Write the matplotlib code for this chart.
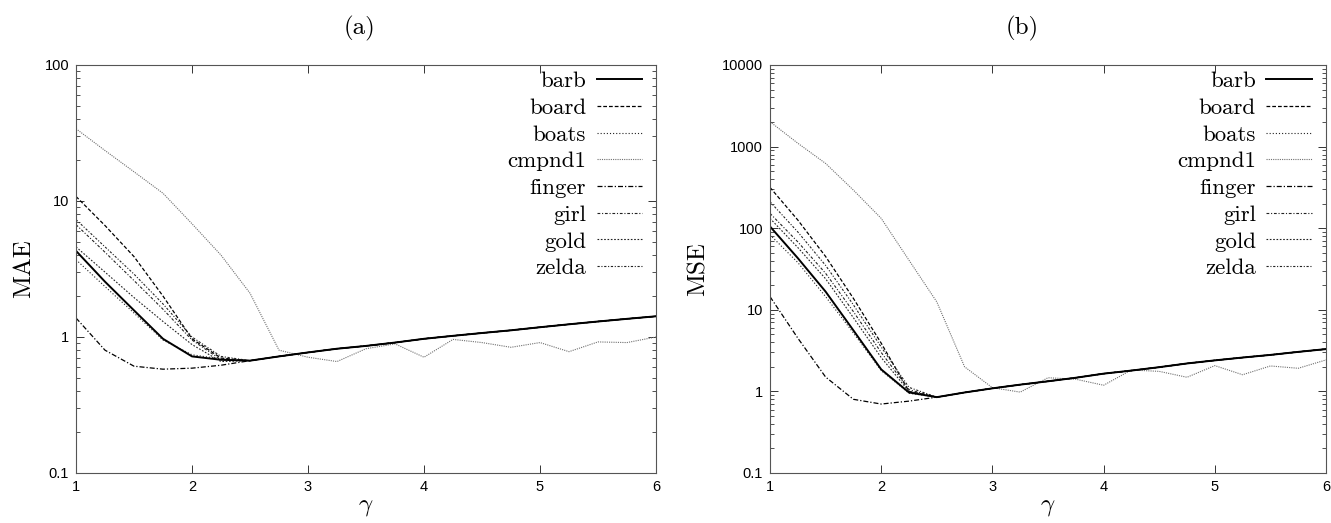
import matplotlib
matplotlib.use('Agg')
import matplotlib.pyplot as plt
from matplotlib.ticker import FixedLocator, NullFormatter, LogLocator

plt.rcParams['mathtext.fontset'] = 'cm'

gamma = [1, 1.25, 1.5, 1.75, 2, 2.25, 2.5, 2.75, 3, 3.25, 3.5, 3.75, 4,
         4.25, 4.5, 4.75, 5, 5.25, 5.5, 5.75, 6]

names = ['barb', 'board', 'boats', 'cmpnd1', 'finger', 'girl', 'gold', 'zelda']

# common tail for gamma >= 2.75 (all images but cmpnd1 coincide there)
mae_tail = [0.72, 0.77, 0.82, 0.86, 0.91, 0.97, 1.02, 1.07, 1.12, 1.18, 1.24, 1.30, 1.36, 1.42]
mse_tail = [0.97, 1.09, 1.21, 1.33, 1.47, 1.65, 1.80, 1.98, 2.20, 2.40, 2.60, 2.80, 3.05, 3.30]

# MAE, gamma = 1 .. 2.5
mae_barb = [4.3, 2.55, 1.57, 0.97, 0.72, 0.68, 0.67]
mae_board = [10.8, 6.6, 3.9, 2.0, 0.97, 0.70, 0.67]
mae_boats = [3.7, 2.35, 1.5, 0.95, 0.74, 0.69, 0.67]
mae_finger = [1.38, 0.80, 0.61, 0.58, 0.59, 0.62, 0.67]
mae_girl = [6.7, 4.2, 2.6, 1.6, 0.95, 0.68, 0.67]
mae_gold = [4.6, 3.0, 1.95, 1.3, 0.88, 0.66, 0.67]
mae_zelda = [7.3, 4.6, 2.9, 1.75, 1.0, 0.72, 0.67]
mae_cmpnd1 = [34, 23.5, 16.4, 11.4, 6.8, 4.0, 2.1, 0.80, 0.71, 0.66, 0.82, 0.89,
              0.71, 0.96, 0.91, 0.84, 0.91, 0.78, 0.92, 0.91, 1.0]

# MSE, gamma = 1 .. 2.5
mse_barb = [105, 43, 16.7, 5.6, 1.86, 0.97, 0.85]
mse_board = [316, 126, 45, 13.8, 3.9, 1.0, 0.85]
mse_boats = [83, 38, 14.5, 5.2, 1.8, 0.95, 0.85]
mse_finger = [14.5, 4.5, 1.5, 0.8, 0.7, 0.76, 0.85]
mse_girl = [152, 68, 28, 9.5, 3.0, 1.05, 0.85]
mse_gold = [132, 58, 24, 8.0, 2.6, 1.0, 0.85]
mse_zelda = [211, 90, 35, 11.5, 3.5, 1.12, 0.85]
mse_cmpnd1 = [2018, 1100, 622, 293, 132, 40.5, 12.5, 2.0, 1.11, 0.98, 1.47, 1.41,
              1.19, 1.83, 1.76, 1.49, 2.07, 1.6, 2.05, 1.92, 2.43]

mae_yticks = [0.1, 1, 10, 100]
mse_yticks = [0.1, 1, 10, 100, 1000, 10000]
xticks = [1, 2, 3, 4, 5, 6]

styles = {
    'barb': dict(color='black', lw=1.4, ls='-'),
    'board': dict(color='black', lw=0.9, ls=(0, (3, 1.6))),
    'boats': dict(color='#222222', lw=0.8, ls=(0, (1, 1.8))),
    'cmpnd1': dict(color='#707070', lw=0.8, ls=(0, (1, 1))),
    'finger': dict(color='black', lw=0.9, ls=(0, (4, 1.6, 1, 1.6))),
    'girl': dict(color='#222222', lw=0.8, ls=(0, (2.5, 1.6, 1, 1.6))),
    'gold': dict(color='#222222', lw=0.8, ls=(0, (1.5, 1.5))),
    'zelda': dict(color='#222222', lw=0.8, ls=(0, (2, 1.5, 1, 1.5))),
}

mae = {'barb': mae_barb + mae_tail, 'board': mae_board + mae_tail,
       'boats': mae_boats + mae_tail, 'cmpnd1': mae_cmpnd1,
       'finger': mae_finger + mae_tail, 'girl': mae_girl + mae_tail,
       'gold': mae_gold + mae_tail, 'zelda': mae_zelda + mae_tail}
mse = {'barb': mse_barb + mse_tail, 'board': mse_board + mse_tail,
       'boats': mse_boats + mse_tail, 'cmpnd1': mse_cmpnd1,
       'finger': mse_finger + mse_tail, 'girl': mse_girl + mse_tail,
       'gold': mse_gold + mse_tail, 'zelda': mse_zelda + mse_tail}

fig = plt.figure(figsize=(13.31, 5.23), dpi=100)
ax1 = fig.add_axes([76 / 1331, 50 / 523, 580 / 1331, 408 / 523])
ax2 = fig.add_axes([770 / 1331, 50 / 523, 556 / 1331, 408 / 523])

serif = 'cmr10'


def draw(ax, data, yticks, ylabel, title, title_x):
    # draw barb last so it sits on top in the shared tail
    for n in ['board', 'boats', 'cmpnd1', 'finger', 'girl', 'gold', 'zelda', 'barb']:
        ax.plot(gamma, data[n], label=n, **styles[n])
    ax.set_yscale('log')
    ax.set_xlim(1, 6)
    ax.set_ylim(yticks[0], yticks[-1])
    ax.xaxis.set_major_locator(FixedLocator(xticks))
    ax.set_xticklabels([str(t) for t in xticks])
    ax.yaxis.set_major_locator(FixedLocator(yticks))
    ax.set_yticklabels([('%g' % t) for t in yticks])
    ax.yaxis.set_minor_locator(LogLocator(base=10, subs=range(2, 10)))
    ax.yaxis.set_minor_formatter(NullFormatter())
    ax.tick_params(which='both', direction='in', top=True, right=True,
                   labelsize=10.5, color='#333333')
    ax.tick_params(which='major', length=6, width=0.7, pad=5)
    ax.tick_params(which='minor', length=3, width=0.6)
    for lab in ax.get_xticklabels() + ax.get_yticklabels():
        lab.set_family('Liberation Sans')
    for s in ax.spines.values():
        s.set_linewidth(0.8)
        s.set_color('#555555')
    ax.set_ylabel(ylabel, fontsize=18, family=serif)
    ax.set_xlabel(r'$\gamma$', fontsize=18, labelpad=0)
    handles, labels = ax.get_legend_handles_labels()
    order = [labels.index(n) for n in names]
    ax.legend([handles[i] for i in order], [labels[i] for i in order],
              loc='upper right', bbox_to_anchor=(1.012, 1.035),
              frameon=False, markerfirst=False, handlelength=2.0,
              handletextpad=0.45, labelspacing=0.29,
              prop={'family': serif, 'size': 16.5})
    fig.text(title_x / 1331, 1 - 28 / 523, title, ha='center', va='center',
             fontsize=18, family=serif)


draw(ax1, mae, mae_yticks, 'MAE', '(a)', 360)
draw(ax2, mse, mse_yticks, 'MSE', '(b)', 1022)
ax1.yaxis.set_label_coords(-0.07, 0.5)
ax2.yaxis.set_label_coords(-0.108, 0.5)

fig.savefig('out.png', dpi=100)
